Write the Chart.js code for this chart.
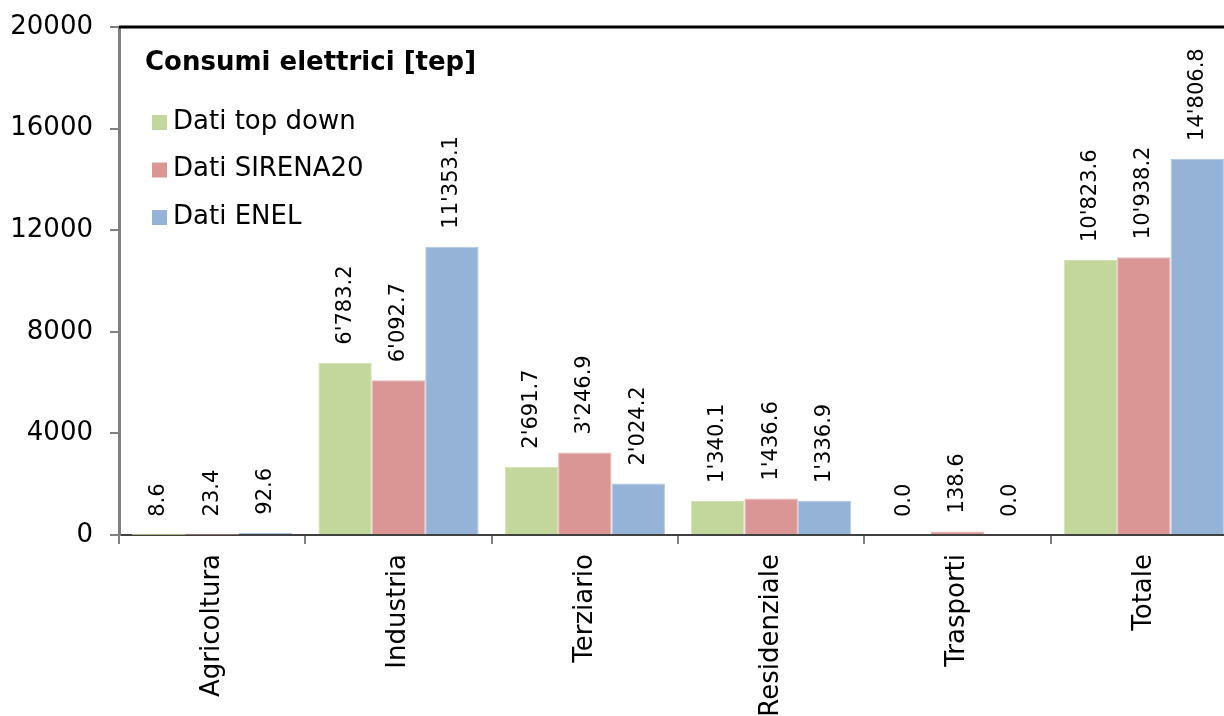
<!DOCTYPE html>
<html>
<head>
<meta charset="utf-8">
<script src="https://cdn.jsdelivr.net/npm/chart.js@4"></script>
<style>
  html, body { margin: 0; padding: 0; background: #fff; overflow: hidden; }
  #wrap { width: 1240px; height: 716px; }
</style>
</head>
<body>
<div id="wrap"><canvas id="myChart"></canvas></div>
<script>
//data
const categories = ["Agricoltura", "Industria", "Terziario", "Residenziale", "Trasporti", "Totale"];
const topDown = [8.6, 6783.2, 2691.7, 1340.1, 0.0, 10823.6];
const sirena = [23.4, 6092.7, 3246.9, 1436.6, 138.6, 10938.2];
const enel = [92.6, 11353.1, 2024.2, 1336.9, 0.0, 14806.8];
const yTicks = [0, 4000, 8000, 12000, 16000, 20000];
const chartTitle = "Consumi elettrici [tep]";

const FONT = "'DejaVu Sans', Verdana, sans-serif";

// 6'783.2 style numbers
function fmt(v) {
  const parts = v.toFixed(1).split(".");
  return parts[0].replace(/\B(?=(\d{3})+(?!\d))/g, "'") + "." + parts[1];
}

const valueLabels = {
  id: "valueLabels",
  afterDatasetsDraw(chart) {
    const ctx = chart.ctx;
    ctx.save();
    ctx.font = "21px " + FONT;
    ctx.fillStyle = "#000";
    ctx.textAlign = "left";
    ctx.textBaseline = "middle";
    chart.data.datasets.forEach((ds, i) => {
      chart.getDatasetMeta(i).data.forEach((bar, j) => {
        ctx.save();
        ctx.translate(bar.x, bar.y - 18);
        ctx.rotate(-Math.PI / 2);
        ctx.fillText(fmt(ds.data[j]), 0, 0);
        ctx.restore();
      });
    });
    ctx.restore();
  },
};

// legend box in the top-left of the plot, plus the black top border
const insideLegend = {
  id: "insideLegend",
  afterDraw(chart) {
    const ctx = chart.ctx;
    const a = chart.chartArea;
    ctx.save();
    ctx.strokeStyle = "#000";
    ctx.lineWidth = 3;
    ctx.beginPath();
    ctx.moveTo(a.left, a.top);
    ctx.lineTo(a.right, a.top);
    ctx.stroke();

    ctx.fillStyle = "#000";
    ctx.textBaseline = "middle";
    ctx.textAlign = "left";
    ctx.font = "bold 26px " + FONT;
    ctx.fillText(chartTitle, 145, 63);

    ctx.font = "26px " + FONT;
    chart.data.datasets.forEach((ds, i) => {
      const y = 122 + i * 47.5;
      ctx.fillStyle = ds.backgroundColor;
      ctx.fillRect(152, y - 7, 15, 15);
      ctx.fillStyle = "#000";
      ctx.fillText(ds.label, 173, y);
    });
    ctx.restore();
  },
};

const edge = (c) => (c.raw < 50 ? 0 : 1);

const data = {
  labels: categories,
  datasets: [
    { label: "Dati top down", data: topDown, backgroundColor: "#C3D69B", borderColor: "#D3E2B5", borderWidth: edge },
    { label: "Dati SIRENA20", data: sirena, backgroundColor: "#D99694", borderColor: "#E6B4B3", borderWidth: edge },
    { label: "Dati ENEL", data: enel, backgroundColor: "#95B3D7", borderColor: "#B4CAE4", borderWidth: edge },
  ],
};

const config = {
  type: "bar",
  data: data,
  options: {
    responsive: true,
    maintainAspectRatio: false,
    animation: false,
    layout: { padding: { top: 27, right: 3, left: 0, bottom: 0 } },
    datasets: { bar: { categoryPercentage: 0.86, barPercentage: 1 } },
    scales: {
      x: {
        afterFit: (s) => { s.height = 181; },
        grid: { display: true, offset: true, drawOnChartArea: false, drawTicks: true, tickLength: 9, color: "#808080", lineWidth: 2 },
        border: { color: "#404040", width: 2 },
        ticks: { color: "#000", font: { family: FONT, size: 26 }, minRotation: 90, maxRotation: 90, padding: 10 },
      },
      y: {
        min: 0,
        max: 20000,
        afterFit: (s) => { s.width = 119; s.paddingTop = 0; s.paddingBottom = 0; },
        afterBuildTicks: (s) => { s.ticks = yTicks.map((v) => ({ value: v })); },
        grid: { display: true, drawOnChartArea: false, drawTicks: true, tickLength: 9, color: "#808080", lineWidth: 2 },
        border: { color: "#808080", width: 3 },
        ticks: { color: "#000", font: { family: FONT, size: 26 }, padding: 17, callback: (v) => String(v) },
      },
    },
    plugins: {
      legend: { display: false },
      tooltip: { enabled: false },
    },
  },
  plugins: [valueLabels, insideLegend],
};

const myChart = new Chart(document.getElementById("myChart"), config);
</script>
</body>
</html>
